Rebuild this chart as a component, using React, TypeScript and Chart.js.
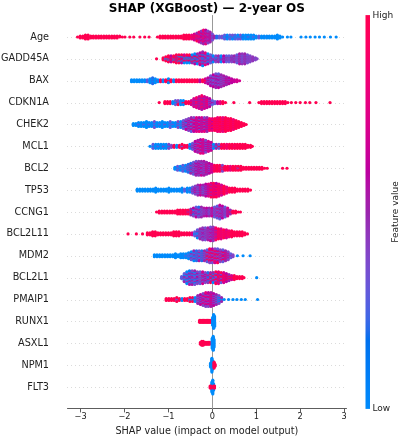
import { useEffect, useRef } from "react";
import { Chart, registerables } from "chart.js";

Chart.register(...registerables);

const TITLE = "SHAP (XGBoost) — 2-year OS";
const X_LABEL = "SHAP value (impact on model output)";
const COLORBAR_LABEL = "Feature value";
const COLORBAR_HIGH = "High";
const COLORBAR_LOW = "Low";
const X_TICKS = [-3, -2, -1, 0, 1, 2, 3];
const X_MIN = -3.31;
const X_MAX = 3.06;

const FEATURES = [
  "Age", "GADD45A", "BAX", "CDKN1A", "CHEK2", "MCL1", "BCL2", "TP53", "CCNG1",
  "BCL2L11", "MDM2", "BCL2L1", "PMAIP1", "RUNX1", "ASXL1", "NPM1", "FLT3",
];

// Each entry: [SHAP value, number of samples piled at that value, ...feature values (0 = low, 1 = high)]
const AGE = [
  [-3.07, 1, 1], [-3.01, 3, 1], [-2.95, 3, 1], [-2.89, 5, 1], [-2.83, 5, 1], [-2.77, 3, 1], [-2.71, 3, 1],
  [-2.65, 3, 1], [-2.59, 3, 1], [-2.53, 3, 1], [-2.47, 3, 1], [-2.41, 3, 1], [-2.35, 3, 1], [-2.29, 3, 1],
  [-2.23, 3, 1], [-2.17, 3, 1], [-2.11, 2, 1], [-2.05, 1, 1], [-1.99, 1, 1],
  [-1.88, 1, 1], [-1.79, 1, 1], [-1.65, 1, 1], [-1.54, 1, 1], [-1.44, 1, 1],
  [-1.25, 1, 1], [-1.19, 3, 1], [-1.13, 3, 1], [-1.07, 3, 1], [-1.01, 3, 1], [-0.95, 3, 1], [-0.89, 3, 1],
  [-0.83, 3, 1], [-0.77, 3, 1], [-0.71, 3, 1], [-0.65, 5, 1], [-0.59, 5, 1], [-0.53, 5, 1], [-0.47, 5, 1, 0.8],
  [-0.41, 7, 1, 0.7], [-0.35, 9, 0.7, 1, 0.5], [-0.3, 11, 0.7, 0.5, 0.85], [-0.25, 13, 0.6, 0.8, 0.45],
  [-0.2, 15, 0.7, 0.5, 0.9], [-0.15, 15, 0.6, 0.45, 0.8], [-0.1, 13, 0.55, 0.75, 0.4], [-0.05, 11, 0.5, 0.7],
  [0.0, 7, 0.5, 0.35], [0.05, 3, 0.5, 0.3], [0.1, 3, 0.4, 0.2], [0.16, 3, 0.3, 0.15], [0.22, 3, 0.2, 0.35],
  [0.28, 5, 0, 0.3], [0.34, 5, 0, 0.2], [0.4, 5, 0, 0.3], [0.46, 5, 0, 0.35, 0], [0.52, 5, 0, 0.25],
  [0.58, 5, 0, 0.3, 0], [0.64, 5, 0, 0.35], [0.7, 5, 0, 0.2], [0.76, 5, 0], [0.82, 5, 0, 0.3], [0.88, 5, 0],
  [0.94, 5, 0, 0.3], [1.0, 3, 0], [1.06, 3, 0, 0.3], [1.12, 3, 0], [1.18, 3, 0], [1.24, 3, 0, 0.3], [1.3, 3, 0],
  [1.36, 3, 0], [1.42, 3, 0], [1.48, 5, 0], [1.54, 3, 0], [1.6, 1, 0],
  [1.71, 1, 0], [1.79, 1, 0], [2.02, 1, 0], [2.13, 1, 0], [2.23, 1, 0], [2.34, 1, 0], [2.44, 1, 0],
  [2.55, 1, 0], [2.69, 1, 0], [2.82, 1, 0],
];

const GADD45A = [
  [-1.27, 1, 1], [-1.12, 3, 1], [-1.06, 5, 1, 0], [-1.0, 7, 1, 1, 0], [-0.94, 7, 1, 0.6], [-0.88, 7, 1, 0, 1],
  [-0.82, 9, 1, 0.5], [-0.76, 9, 1, 0, 1], [-0.7, 9, 0.6, 1, 0], [-0.64, 9, 1, 0, 0.7], [-0.58, 9, 1, 0.5, 0],
  [-0.52, 9, 0, 1, 0.6], [-0.46, 9, 1, 0.5, 0], [-0.4, 11, 0.6, 1, 0], [-0.34, 11, 0.5, 0, 1],
  [-0.28, 13, 0.6, 0.3, 1], [-0.22, 15, 0.5, 0.7, 0], [-0.16, 13, 0.5, 0.3, 0.8], [-0.1, 11, 0.4, 0, 0.6],
  [-0.04, 9, 0.5, 0.3], [0.02, 7, 0.3, 0.6, 0], [0.08, 7, 0.4, 0, 0.7], [0.14, 7, 0.3, 0.5], [0.2, 7, 0.2, 0.5, 0],
  [0.26, 7, 0.4, 0.6], [0.32, 7, 0.3, 0.5], [0.38, 7, 0.45, 0.3], [0.44, 7, 0.4, 0.5], [0.5, 7, 0.35, 0.5],
  [0.56, 9, 0.45, 0.3], [0.62, 11, 0.4, 0.55], [0.68, 11, 0.45, 0.3], [0.74, 11, 0.4, 0.5], [0.8, 9, 0.45, 0.35],
  [0.86, 7, 0.4], [0.92, 5, 0.45], [0.98, 3, 0.4], [1.02, 1, 0.4],
];

const BAX = [
  [-1.84, 3, 0], [-1.78, 3, 0], [-1.72, 3, 0], [-1.66, 3, 0, 0.3], [-1.6, 3, 0], [-1.54, 3, 0], [-1.48, 3, 0, 0.3],
  [-1.42, 5, 0], [-1.36, 7, 0, 0.2], [-1.3, 5, 0], [-1.24, 3, 1, 0], [-1.18, 3, 1], [-1.12, 3, 1, 0], [-1.06, 3, 1],
  [-1.0, 5, 0, 1], [-0.94, 3, 1], [-0.88, 3, 1, 0], [-0.82, 3, 1], [-0.76, 3, 1], [-0.7, 3, 1, 0.7], [-0.64, 3, 1],
  [-0.58, 3, 1], [-0.52, 3, 1], [-0.46, 3, 1], [-0.4, 3, 1], [-0.34, 3, 1], [-0.28, 3, 1, 0.6], [-0.22, 3, 1],
  [-0.16, 5, 0.7, 1], [-0.1, 7, 0.6, 0.4], [-0.04, 11, 0.5, 0.35, 0.6], [0.02, 13, 0.45, 0.6, 0.3],
  [0.08, 15, 0.5, 0.35, 0.6], [0.14, 15, 0.45, 0.6, 0.3], [0.2, 13, 0.5, 0.4], [0.26, 11, 0.55, 0.4],
  [0.32, 9, 0.5, 0.65], [0.38, 7, 0.6, 0.45], [0.44, 5, 0.6, 0.7], [0.5, 3, 0.65], [0.56, 3, 0.7], [0.62, 1, 0.7],
];

const CDKN1A = [
  [-1.21, 1, 1], [-1.08, 3, 1], [-1.02, 3, 1], [-0.96, 3, 1], [-0.9, 3, 1, 0], [-0.84, 5, 0, 0.3],
  [-0.78, 5, 0, 0.4, 1], [-0.72, 5, 0.3, 0], [-0.66, 5, 0, 1], [-0.6, 3, 1], [-0.54, 3, 1], [-0.48, 5, 1, 0.7],
  [-0.42, 9, 0.7, 0.5], [-0.36, 11, 0.75, 0.5, 0.9], [-0.3, 13, 0.7, 0.5], [-0.24, 15, 0.75, 0.55, 0.9],
  [-0.18, 13, 0.7, 0.5], [-0.12, 11, 0.65, 0.85], [-0.06, 9, 0.6, 0.4], [0.0, 5, 0.6, 0.3], [0.06, 3, 0.5, 0.3],
  [0.12, 3, 0.6, 1], [0.18, 3, 0.8], [0.24, 3, 1], [0.3, 1, 1], [0.49, 1, 1], [0.85, 1, 1],
  [1.06, 1, 1], [1.12, 3, 1], [1.18, 3, 1], [1.24, 3, 1], [1.3, 3, 1], [1.36, 3, 1], [1.42, 3, 1], [1.48, 3, 1],
  [1.54, 3, 1], [1.6, 3, 1], [1.66, 3, 1], [1.72, 1, 1], [1.8, 1, 1], [1.9, 1, 1], [2.0, 1, 1], [2.12, 1, 1],
  [2.22, 1, 1], [2.36, 1, 1], [2.68, 1, 1],
];

const CHEK2 = [
  [-1.8, 3, 0], [-1.74, 3, 0], [-1.68, 5, 0, 0.3], [-1.62, 5, 0], [-1.56, 5, 0, 0.3], [-1.5, 7, 0], [-1.44, 5, 0, 0.3],
  [-1.38, 5, 0], [-1.32, 7, 0, 0.35], [-1.26, 5, 0], [-1.2, 5, 0, 0.3], [-1.14, 7, 0], [-1.08, 5, 0, 0.35],
  [-1.02, 5, 0], [-0.96, 7, 0, 0.3], [-0.9, 5, 0.3, 0], [-0.84, 5, 0], [-0.78, 7, 0.4, 0], [-0.72, 7, 0.3, 0],
  [-0.66, 9, 0.5, 0.3], [-0.6, 11, 0.4, 0.6, 0.2], [-0.54, 13, 0.6, 0.4], [-0.48, 15, 0.5, 0.7, 0.3],
  [-0.42, 15, 0.6, 0.4, 0.8], [-0.36, 15, 0.55, 0.75], [-0.3, 15, 0.6, 0.4, 0.8], [-0.24, 15, 0.5, 0.7],
  [-0.18, 15, 0.6, 0.8, 0.4], [-0.12, 15, 0.7, 0.5], [-0.06, 13, 0.7, 0.9], [0.0, 13, 0.8, 1, 0.6],
  [0.06, 13, 0.9, 1], [0.12, 15, 1, 0.85], [0.18, 15, 1, 0.9, 1], [0.24, 15, 1, 0.8], [0.3, 15, 1],
  [0.36, 13, 1, 0.9], [0.42, 13, 1], [0.48, 11, 1, 0.85], [0.54, 9, 1], [0.6, 7, 1], [0.66, 5, 1], [0.72, 3, 1],
  [0.77, 1, 1],
];

const MCL1 = [
  [-1.42, 1, 0], [-1.35, 5, 0, 0.3], [-1.29, 5, 0], [-1.23, 5, 0.3, 0], [-1.17, 5, 0], [-1.11, 5, 0.4, 0],
  [-1.05, 5, 0], [-0.99, 5, 0, 0.4], [-0.93, 3, 1, 0.4], [-0.87, 3, 1], [-0.81, 3, 1, 0], [-0.75, 3, 1],
  [-0.69, 5, 1, 0.3], [-0.63, 3, 1], [-0.57, 3, 0.5, 1], [-0.51, 5, 0.5, 0], [-0.45, 7, 0.5, 0.3],
  [-0.39, 11, 0.6, 0.4], [-0.33, 13, 0.55, 0.75, 0.4], [-0.27, 15, 0.6, 0.4, 0.8], [-0.21, 15, 0.55, 0.75],
  [-0.15, 13, 0.6, 0.4], [-0.09, 11, 0.5, 0.7], [-0.03, 9, 0.45, 0.65], [0.03, 5, 0, 0.4], [0.09, 5, 0, 0.5],
  [0.15, 5, 0.3, 1], [0.21, 5, 0.7, 1], [0.27, 5, 1], [0.33, 5, 1, 0.85], [0.39, 5, 1], [0.45, 5, 1],
  [0.51, 5, 1, 0.85], [0.57, 5, 1], [0.63, 5, 1], [0.69, 5, 1], [0.75, 5, 1], [0.81, 3, 1], [0.87, 3, 1],
  [0.91, 1, 1],
];

const BCL2 = [
  [-0.85, 3, 0], [-0.79, 5, 0, 0.3], [-0.73, 5, 0, 0.3], [-0.67, 7, 0.3, 0], [-0.61, 7, 0.3, 0],
  [-0.55, 9, 0.4, 0.2], [-0.49, 11, 0.4, 0.2, 0.5], [-0.43, 13, 0.5, 0.3], [-0.37, 15, 0.5, 0.35, 0.6],
  [-0.31, 15, 0.45, 0.6], [-0.25, 15, 0.5, 0.35, 0.65], [-0.19, 15, 0.55, 0.4], [-0.13, 13, 0.5, 0.7],
  [-0.07, 11, 0.6, 0.4], [-0.01, 9, 0.65, 0.8], [0.05, 7, 1, 0.8], [0.11, 7, 1], [0.17, 7, 1, 0.85],
  [0.23, 7, 1, 0.4], [0.29, 5, 1], [0.35, 5, 1], [0.41, 5, 1, 0.8], [0.47, 5, 1], [0.53, 5, 1], [0.59, 5, 1, 0.4],
  [0.65, 5, 1], [0.71, 3, 1], [0.77, 3, 1], [0.83, 3, 1], [0.89, 3, 1], [0.95, 3, 1], [1.01, 3, 1], [1.07, 3, 1],
  [1.13, 3, 1], [1.19, 1, 1], [1.25, 1, 1], [1.6, 1, 1], [1.7, 1, 1],
];

const TP53 = [
  [-1.71, 3, 0], [-1.65, 3, 0], [-1.59, 3, 0], [-1.53, 3, 0], [-1.47, 3, 0], [-1.41, 3, 0], [-1.35, 3, 0],
  [-1.29, 5, 0], [-1.23, 3, 0], [-1.17, 3, 0], [-1.11, 3, 0], [-1.05, 3, 0], [-0.99, 5, 0], [-0.93, 3, 0],
  [-0.87, 3, 0], [-0.81, 3, 0, 0.3], [-0.75, 3, 0], [-0.69, 5, 0], [-0.63, 3, 0, 0.3], [-0.57, 5, 0],
  [-0.51, 5, 0, 0.3], [-0.45, 7, 0.3, 0.5], [-0.39, 9, 0.4, 0.6], [-0.33, 11, 0.5, 0.3], [-0.27, 11, 0.45, 0.65],
  [-0.21, 11, 0.5, 0.3], [-0.15, 13, 0.6, 0.4], [-0.09, 13, 0.55, 0.75], [-0.03, 15, 0.8, 0.5, 1],
  [0.03, 15, 1, 0.7], [0.09, 15, 0.9, 1, 0.6], [0.15, 13, 1, 0.8], [0.21, 11, 1, 0.7], [0.27, 9, 1],
  [0.33, 7, 1, 0.8], [0.39, 5, 1], [0.45, 5, 1], [0.51, 5, 1], [0.57, 3, 1], [0.63, 3, 1], [0.69, 3, 1],
  [0.75, 3, 1], [0.81, 3, 1], [0.87, 1, 1],
];

const CCNG1 = [
  [-1.27, 1, 1], [-1.21, 3, 1], [-1.15, 3, 1], [-1.09, 3, 1], [-1.03, 3, 1], [-0.97, 3, 1], [-0.91, 3, 1],
  [-0.85, 3, 1], [-0.79, 5, 1], [-0.73, 5, 1], [-0.67, 5, 1], [-0.61, 5, 1], [-0.55, 5, 1, 0.5], [-0.49, 7, 0.5, 1],
  [-0.43, 9, 0.4, 0.6, 0], [-0.37, 11, 0.45, 0.3, 0.6], [-0.31, 11, 0.4, 0.65, 0.2], [-0.25, 11, 0.5, 0.3],
  [-0.19, 9, 0.55, 0.35], [-0.13, 9, 0.4, 0.6], [-0.07, 9, 0.5, 0.3], [-0.01, 9, 0.45, 0.65], [0.05, 11, 0.5, 0.3],
  [0.11, 13, 0.45, 0.7, 0.3], [0.17, 15, 0.5, 0.3, 0.65], [0.23, 13, 0.4, 0.6], [0.29, 11, 0.5, 0.3],
  [0.35, 9, 0.5, 0.7], [0.41, 5, 0.5, 1], [0.47, 3, 1], [0.53, 3, 1], [0.59, 1, 1], [0.64, 1, 1],
];

const BCL2L11 = [
  [-1.92, 1, 1], [-1.73, 1, 1], [-1.59, 1, 1], [-1.48, 3, 1], [-1.42, 3, 1], [-1.36, 5, 1], [-1.3, 5, 1],
  [-1.24, 3, 1], [-1.18, 3, 1], [-1.12, 3, 1], [-1.06, 3, 1], [-1.0, 3, 1], [-0.94, 3, 1], [-0.88, 5, 1],
  [-0.82, 5, 1], [-0.76, 5, 1], [-0.7, 3, 1], [-0.64, 3, 1], [-0.58, 3, 1], [-0.52, 3, 1], [-0.46, 3, 1, 0.7],
  [-0.4, 5, 0, 0.3], [-0.34, 9, 0.3, 0.5, 0], [-0.28, 11, 0.5, 0.3], [-0.22, 13, 0.45, 0.6, 0.3],
  [-0.16, 13, 0.5, 0.35], [-0.1, 13, 0.55, 0.4], [-0.04, 15, 0.5, 0.65, 0.35], [0.02, 15, 0.6, 0.45],
  [0.08, 13, 0.7, 0.5, 0.9], [0.14, 11, 0.8, 1], [0.2, 11, 0.75, 1], [0.26, 9, 1, 0.8], [0.32, 9, 1, 0.75],
  [0.38, 7, 1, 0.85], [0.44, 7, 1], [0.5, 5, 1], [0.56, 5, 1], [0.62, 5, 1], [0.68, 5, 1], [0.74, 3, 1], [0.8, 1, 1],
];

const MDM2 = [
  [-1.32, 3, 0], [-1.26, 3, 0], [-1.2, 3, 0], [-1.14, 3, 0], [-1.08, 3, 0], [-1.02, 3, 0], [-0.96, 3, 0],
  [-0.9, 3, 0], [-0.84, 5, 0], [-0.78, 3, 0], [-0.72, 5, 0], [-0.66, 5, 0], [-0.6, 5, 0, 0.3], [-0.54, 7, 0, 0.3],
  [-0.48, 9, 0.3, 0, 0.5], [-0.42, 11, 0.3, 0.5, 0], [-0.36, 11, 0.4, 0.2], [-0.3, 11, 0.35, 0.55, 0],
  [-0.24, 11, 0.4, 0.2], [-0.18, 11, 0.5, 0.3], [-0.12, 13, 0.5, 1, 0.3], [-0.06, 15, 0.7, 0.4, 1],
  [0.0, 15, 0.6, 1, 0.35], [0.06, 15, 0.7, 0.4, 1], [0.12, 15, 0.6, 1, 0.3], [0.18, 13, 0.7, 0.4],
  [0.24, 13, 0.6, 1, 0.3], [0.3, 11, 0.5, 0.8], [0.36, 9, 0.4, 0.7], [0.42, 5, 0.5, 0.3], [0.47, 3, 0.4],
  [0.57, 1, 0], [0.7, 1, 0], [0.86, 1, 0],
];

const BCL2L1 = [
  [-0.7, 3, 0, 0.3], [-0.64, 9, 0.3, 0, 0.5], [-0.58, 13, 0.3, 0.5, 0], [-0.52, 15, 0.35, 0.55, 0.1],
  [-0.46, 15, 0.4, 0.2, 0.55], [-0.4, 15, 0.35, 0.5, 0], [-0.34, 13, 0.4, 0.6, 0.2], [-0.28, 13, 0.45, 0.3],
  [-0.22, 13, 0.5, 0.3, 0.7], [-0.16, 11, 0.4, 0.6], [-0.1, 11, 0.45, 0.7, 0.2], [-0.04, 11, 0.5, 1, 0.3],
  [0.02, 11, 1, 0.5, 0], [0.08, 13, 0.7, 1, 0.3], [0.14, 13, 1, 0.5, 0.8], [0.2, 11, 0.6, 1, 0.3],
  [0.26, 11, 1, 0.7], [0.32, 9, 1, 0.6], [0.38, 7, 1, 0.5], [0.44, 5, 1, 0.7], [0.5, 5, 1], [0.56, 3, 1],
  [0.62, 3, 1], [0.68, 3, 1], [0.72, 1, 1], [1.01, 1, 0],
];

const PMAIP1 = [
  [-1.05, 3, 1], [-0.99, 3, 1], [-0.93, 3, 1], [-0.87, 3, 1], [-0.81, 5, 1, 0.3], [-0.75, 3, 1], [-0.69, 3, 1, 0],
  [-0.63, 3, 1], [-0.57, 3, 1], [-0.51, 5, 0, 1], [-0.45, 5, 1, 0], [-0.39, 5, 0.3, 0], [-0.33, 9, 0.5, 0.3],
  [-0.27, 11, 0.6, 0.35], [-0.21, 13, 0.55, 0.8, 0.4], [-0.15, 15, 0.6, 0.4, 0.8], [-0.09, 15, 0.6, 0.8, 0.4],
  [-0.03, 15, 0.55, 0.75], [0.03, 13, 0.6, 0.4], [0.09, 11, 0.5, 0.3], [0.15, 9, 0.4, 0], [0.21, 5, 0, 0.5],
  [0.27, 1, 0], [0.37, 1, 0], [0.47, 1, 0], [0.56, 1, 0], [0.66, 1, 0], [0.75, 1, 0], [1.03, 1, 0],
];

const RUNX1 = [
  [-0.29, 3, 1], [-0.26, 3, 1], [-0.23, 3, 1], [-0.2, 3, 1], [-0.17, 3, 1], [-0.14, 3, 1], [-0.11, 3, 1],
  [-0.08, 3, 1], [-0.05, 3, 1], [-0.02, 3, 1], [0.01, 9, 0], [0.03, 15, 0], [0.05, 11, 0],
];

const ASXL1 = [
  [-0.27, 3, 1], [-0.24, 5, 1], [-0.21, 5, 1], [-0.18, 3, 1], [-0.15, 3, 1], [-0.12, 3, 1], [-0.09, 3, 1],
  [-0.06, 3, 1], [-0.03, 1, 1], [0.0, 11, 0], [0.02, 15, 0], [0.035, 9, 0],
];

const NPM1 = [
  [-0.04, 5, 0], [-0.01, 15, 0], [0.01, 9, 0], [0.04, 7, 1], [0.06, 3, 1],
];

const FLT3 = [
  [-0.01, 11, 0], [0.01, 15, 0], [0.03, 7, 0], [-0.05, 3, 1], [-0.03, 3, 1], [0.03, 3, 1], [0.05, 3, 1],
];

const SHAP_BY_FEATURE = [
  AGE, GADD45A, BAX, CDKN1A, CHEK2, MCL1, BCL2, TP53, CCNG1, BCL2L11, MDM2, BCL2L1, PMAIP1, RUNX1, ASXL1, NPM1, FLT3,
];

const FONT = "DejaVu Sans";

// SHAP "red_blue" colormap (Lch interpolation)
function redBlue(t: number): string {
  const L = t < 0.5 ? 54 + (40 - 54) * (t / 0.5) : 40 + (54 - 40) * ((t - 0.5) / 0.5);
  const C = 70 + 20 * t;
  const h0 = 4.6588;
  const h1 = 0.35470565 + 2 * Math.PI;
  const h = h0 + (h1 - h0) * t;
  const a = C * Math.cos(h);
  const b = C * Math.sin(h);
  const fy = (L + 16) / 116;
  const fx = fy + a / 500;
  const fz = fy - b / 200;
  const finv = (v: number) => (v > 0.206893 ? v * v * v : (v - 16 / 116) / 7.787);
  const X = 0.95047 * finv(fx);
  const Y = finv(fy);
  const Z = 1.08883 * finv(fz);
  const lin = [
    3.2406 * X - 1.5372 * Y - 0.4986 * Z,
    -0.9689 * X + 1.8758 * Y + 0.0415 * Z,
    0.0557 * X - 0.204 * Y + 1.057 * Z,
  ];
  const rgb = lin.map((v) => {
    const g = v <= 0.0031308 ? 12.92 * v : 1.055 * Math.pow(Math.max(v, 0), 1 / 2.4) - 0.055;
    return Math.round(Math.min(1, Math.max(0, g)) * 255);
  });
  return `rgb(${rgb[0]},${rgb[1]},${rgb[2]})`;
}

function buildPoints() {
  const points: { x: number; y: number }[] = [];
  const colors: string[] = [];
  const n = FEATURES.length;
  SHAP_BY_FEATURE.forEach((piles, i) => {
    const row = n - 1 - i;
    let maxLayer = 0;
    piles.forEach((p) => {
      maxLayer = Math.max(maxLayer, Math.ceil((p[1] - 1) / 2));
    });
    const step = 0.36 / (maxLayer + 1);
    piles.forEach((p, pi) => {
      const x = p[0];
      const count = p[1];
      const cyc = p.slice(2);
      for (let k = 0; k < count; k++) {
        const layer = Math.ceil(k / 2) * (k % 2 === 1 ? 1 : -1);
        const idx = (((layer * 5 + pi * 7) % cyc.length) + cyc.length) % cyc.length;
        points.push({ x, y: row + layer * step });
        colors.push(redBlue(cyc[idx]));
      }
    });
  });
  return { points, colors };
}

const fmtTick = (v: number) => (v < 0 ? "\u2212" + Math.abs(v) : String(v));

const decorPlugin = {
  id: "shapDecor",
  beforeDatasetsDraw(chart: any) {
    const { ctx, chartArea, scales } = chart;
    ctx.save();
    ctx.strokeStyle = "#cccccc";
    ctx.lineWidth = 0.7;
    ctx.setLineDash([1, 3]);
    FEATURES.forEach((_, i) => {
      const y = Math.round(scales.y.getPixelForValue(i)) + 0.5;
      ctx.beginPath();
      ctx.moveTo(chartArea.left, y);
      ctx.lineTo(chartArea.right, y);
      ctx.stroke();
    });
    ctx.setLineDash([]);
    const x0 = Math.round(scales.x.getPixelForValue(0)) + 0.5;
    ctx.strokeStyle = "#999999";
    ctx.lineWidth = 1;
    ctx.beginPath();
    ctx.moveTo(x0, chartArea.top);
    ctx.lineTo(x0, chartArea.bottom);
    ctx.stroke();
    ctx.restore();
  },
  afterDraw(chart: any) {
    const { ctx, chartArea } = chart;
    ctx.save();
    ctx.fillStyle = "#000";
    ctx.font = `bold 12px "${FONT}"`;
    ctx.textAlign = "center";
    ctx.textBaseline = "alphabetic";
    ctx.fillText(TITLE, (chartArea.left + chartArea.right) / 2, 11.7);
    const cbL = 365.5;
    const cbW = 4.5;
    const top = chartArea.top;
    const bottom = chartArea.bottom;
    const grad = ctx.createLinearGradient(0, bottom, 0, top);
    for (let s = 0; s <= 40; s++) grad.addColorStop(s / 40, redBlue(s / 40));
    ctx.fillStyle = grad;
    ctx.fillRect(cbL, top, cbW, bottom - top);
    ctx.fillStyle = "#222";
    ctx.font = `9px "${FONT}"`;
    ctx.textAlign = "left";
    ctx.textBaseline = "middle";
    ctx.fillText(COLORBAR_HIGH, 372.5, top + 1);
    ctx.fillText(COLORBAR_LOW, 372.5, bottom);
    ctx.translate(396, (top + bottom) / 2);
    ctx.rotate(-Math.PI / 2);
    ctx.textAlign = "center";
    ctx.fillText(COLORBAR_LABEL, 0, 0);
    ctx.restore();
  },
};

export default function App() {
  const ref = useRef<HTMLCanvasElement | null>(null);
  useEffect(() => {
    if (!ref.current) return;
    const { points, colors } = buildPoints();
    const chart = new Chart(ref.current, {
      type: "scatter",
      data: {
        datasets: [
          {
            data: points,
            backgroundColor: colors,
            pointRadius: 1.6,
            pointHoverRadius: 1.6,
            pointBorderWidth: 0,
            borderWidth: 0,
          } as any,
        ],
      },
      options: {
        responsive: false,
        animation: false,
        events: [],
        layout: { padding: { top: 15.1, right: 53.3, left: 0, bottom: 0 } },
        plugins: {
          legend: { display: false },
          tooltip: { enabled: false },
          title: { display: false },
        },
        scales: {
          x: {
            type: "linear",
            min: X_MIN,
            max: X_MAX,
            afterBuildTicks: (s: any) => {
              s.ticks = X_TICKS.map((v) => ({ value: v }));
            },
            afterFit: (s: any) => {
              s.height = 28.1;
              s.paddingLeft = 0;
              s.paddingRight = 0;
              s.paddingTop = 0;
              s.paddingBottom = 0;
            },
            grid: { drawOnChartArea: false, drawTicks: true, tickLength: 3.5, color: "#333", lineWidth: 0.8 },
            border: { display: true, color: "#333", width: 0.8 },
            ticks: {
              font: { family: FONT, size: 8.2 },
              color: "#222",
              padding: 0,
              maxRotation: 0,
              callback: (v: any) => fmtTick(Number(v)),
            },
            title: {
              display: true,
              text: X_LABEL,
              font: { family: FONT, size: 9.7 },
              color: "#222",
              padding: 0,
            },
          },
          y: {
            type: "linear",
            min: -1,
            max: FEATURES.length,
            afterBuildTicks: (s: any) => {
              s.ticks = FEATURES.map((_, i) => ({ value: i }));
            },
            afterFit: (s: any) => {
              s.width = 67;
              s.paddingLeft = 0;
              s.paddingRight = 0;
              s.paddingTop = 0;
              s.paddingBottom = 0;
            },
            grid: { display: false, drawTicks: false },
            border: { display: false },
            ticks: {
              font: { family: FONT, size: 9.7 },
              color: "#222",
              padding: 18,
              callback: (v: any) => FEATURES[FEATURES.length - 1 - Number(v)],
            },
          },
        },
      } as any,
      plugins: [decorPlugin],
    });
    return () => chart.destroy();
  }, []);
  return (
    <div style={{ position: "absolute", left: 0, top: 0, width: 400, height: 437, background: "#fff" }}>
      <canvas ref={ref} width={400} height={437} style={{ display: "block" }} />
    </div>
  );
}
